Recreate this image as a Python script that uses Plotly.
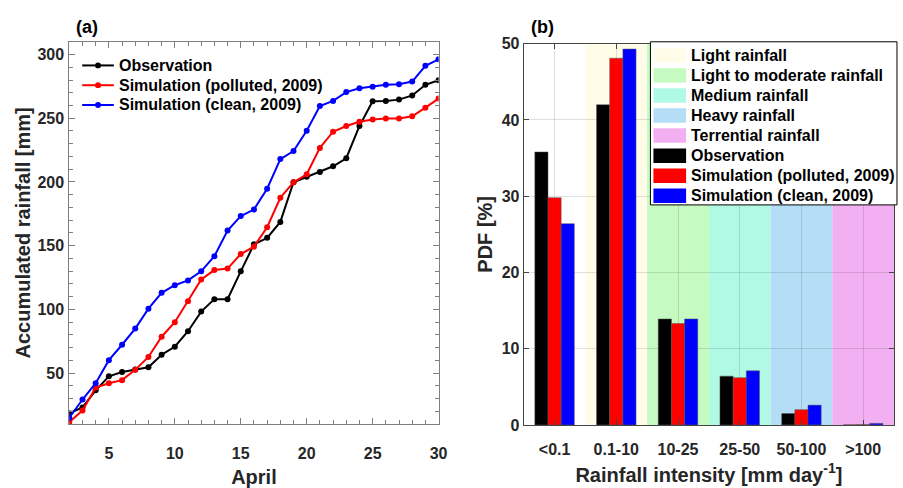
import plotly.graph_objects as go

# ---------------- data: panel (a) ----------------
days = list(range(2, 31))
obs_acc = [18.4, 23.0, 36.4, 47.4, 50.8, 52.7, 54.5, 64.4, 70.7, 82.8, 98.2, 108.0, 108.0, 129.8, 151.0,
           156.1, 168.6, 199.7, 204.0, 207.8, 212.3, 218.6, 243.9, 263.3, 263.6, 264.6, 267.9, 276.2, 279.8]
pol_acc = [11.6, 20.5, 38.6, 42.0, 44.4, 52.5, 62.6, 78.5, 89.9, 106.3, 123.5, 130.8, 132.0, 143.4, 149.2,
           164.4, 187.6, 199.7, 206.0, 226.7, 239.4, 243.9, 247.2, 249.0, 249.7, 249.7, 251.5, 258.3, 265.4]
cln_acc = [14.9, 29.2, 42.0, 60.1, 72.2, 84.9, 100.5, 113.0, 118.9, 122.7, 129.8, 141.7, 161.8, 173.2, 178.3,
           194.7, 217.9, 224.2, 240.2, 259.6, 263.6, 270.5, 273.5, 274.7, 276.2, 276.7, 278.8, 291.1, 296.2]

# ---------------- data: panel (b) ----------------
categories = ["<0.1", "0.1-10", "10-25", "25-50", "50-100", ">100"]
cat_pos = [1, 2, 3, 4, 5, 6]
obs_pdf = [35.8, 42.0, 13.9, 6.4, 1.5, 0.02]
pol_pdf = [29.8, 48.1, 13.3, 6.2, 2.0, 0.05]
cln_pdf = [26.4, 49.3, 13.9, 7.1, 2.6, 0.2]

band_names = ["Light rainfall", "Light to moderate rainfall", "Medium rainfall", "Heavy rainfall", "Terrential rainfall"]
band_lo = [1.5, 2.5, 3.5, 4.5, 5.5]
band_hi = [2.5, 3.5, 4.5, 5.5, 6.5]
band_colors = ["rgb(255,253,232)", "rgb(197,250,193)", "rgb(176,250,228)", "rgb(180,222,246)", "rgb(242,176,242)"]

series_names = ["Observation", "Simulation (polluted, 2009)", "Simulation (clean, 2009)"]
series_colors = ["#000000", "#ff0000", "#0000ff"]

W, H = 903, 488
FONT = "Liberation Sans, Arial, sans-serif"
TXT = "#262626"

fig = go.Figure()

# panel (a) lines
for name, vals, col in zip(series_names, [obs_acc, pol_acc, cln_acc], series_colors):
    fig.add_trace(go.Scatter(x=days, y=vals, mode="lines+markers", name=name,
                             line=dict(color=col, width=2), marker=dict(color=col, size=6),
                             xaxis="x", yaxis="y", showlegend=False))

# panel (b) bars
for name, vals, col in zip(series_names, [obs_pdf, pol_pdf, cln_pdf], series_colors):
    fig.add_trace(go.Bar(x=cat_pos, y=vals, name=name, marker=dict(color=col, line=dict(color="#555", width=0.5)),
                         xaxis="x2", yaxis="y2", showlegend=False))


def px(x):
    return x / W


def py(y):
    return 1 - y / H


shapes = []
annotations = []
# background bands
for lo, hi, c in zip(band_lo, band_hi, band_colors):
    shapes.append(dict(type="rect", xref="x2", yref="y2", x0=lo, x1=hi, y0=0, y1=50,
                       fillcolor=c, line=dict(width=0), layer="below"))

legfont = dict(family=FONT, size=16, color="black", weight="bold")

# legend panel (a)
for i, (n, c) in enumerate(zip(series_names, series_colors)):
    yc = 59.5 + i * 20.5
    shapes.append(dict(type="line", xref="paper", yref="paper", x0=px(83), x1=px(115), y0=py(yc), y1=py(yc),
                       line=dict(color=c, width=2), layer="above"))
    shapes.append(dict(type="circle", xref="paper", yref="paper", x0=px(96), x1=px(102), y0=py(yc + 3), y1=py(yc - 3),
                       fillcolor=c, line=dict(color=c, width=0), layer="above"))
    annotations.append(dict(xref="paper", yref="paper", x=px(118), y=py(yc), text=n, showarrow=False,
                            xanchor="left", yanchor="middle", font=legfont))

# legend panel (b)
shapes.append(dict(type="rect", xref="paper", yref="paper", x0=px(657), x1=px(906), y0=py(204), y1=py(35),
                   fillcolor="white", line=dict(color="black", width=1), layer="above"))
leg_names = band_names + series_names
leg_cols = band_colors + series_colors
for i, (n, c) in enumerate(zip(leg_names, leg_cols)):
    yc = 49 + i * 20.8
    shapes.append(dict(type="rect", xref="paper", yref="paper", x0=px(660), x1=px(693), y0=py(yc + 7.5), y1=py(yc - 7.5),
                       fillcolor=c, line=dict(width=0), layer="above"))
    annotations.append(dict(xref="paper", yref="paper", x=px(696), y=py(yc), text=n, showarrow=False,
                            xanchor="left", yanchor="middle", font=legfont))

annotations.append(dict(xref="paper", yref="paper", x=px(88), y=py(32), text="(a)", showarrow=False,
                        xanchor="center", yanchor="bottom", font=dict(family=FONT, size=18, color="black", weight="bold")))
annotations.append(dict(xref="paper", yref="paper", x=px(548), y=py(32), text="(b)", showarrow=False,
                        xanchor="center", yanchor="bottom", font=dict(family=FONT, size=18, color="black", weight="bold")))

tickfont = dict(family=FONT, size=16, color=TXT, weight="bold")
titlefont = dict(family=FONT, size=20, color=TXT, weight="bold")
AX = "#7f7f7f"

fig.update_layout(
    width=W, height=H, margin=dict(l=0, r=0, t=0, b=0),
    paper_bgcolor="white", plot_bgcolor="white",
    barmode="group", bargap=0.36, bargroupgap=0,
    shapes=shapes, annotations=annotations, showlegend=False,
    xaxis=dict(domain=[px(70), px(443)], range=[2, 30], tick0=0, dtick=5, ticks="inside", ticklen=6,
               tickcolor=AX, showline=True, linecolor=AX, linewidth=1, mirror="ticks", showgrid=False,
               zeroline=False, tickfont=tickfont, ticklabelstandoff=15,
               minor=dict(dtick=1, ticks="inside", ticklen=4, tickcolor=AX, showgrid=False),
               title=dict(text="April", font=titlefont, standoff=8), anchor="y"),
    yaxis=dict(domain=[1 - 431 / H, 1 - 35 / H], range=[10, 310], tick0=0, dtick=50, ticks="inside", ticklen=6,
               tickcolor=AX, showline=True, linecolor=AX, linewidth=1, mirror="ticks", showgrid=False,
               zeroline=False, tickfont=tickfont, ticklabelstandoff=1,
               minor=dict(dtick=10, ticks="inside", ticklen=4, tickcolor=AX, showgrid=False),
               title=dict(text="Accumulated rainfall [mm]", font=titlefont, standoff=1), anchor="x"),
    xaxis2=dict(domain=[px(529), 1.0], range=[0.5, 6.5], tickmode="array", tickvals=cat_pos, ticktext=categories,
                ticks="inside", ticklen=5, tickcolor="#444", showline=True, linecolor="#444", linewidth=1,
                mirror="ticks", showgrid=True, gridcolor="rgba(0,0,0,0.12)", zeroline=False, tickfont=tickfont,
                ticklabelstandoff=10,
                title=dict(text="Rainfall intensity [mm day<sup>-1</sup>]", font=titlefont, standoff=10), anchor="y2"),
    yaxis2=dict(domain=[1 - 432 / H, 1 - 37 / H], range=[0, 50], dtick=10, ticks="inside", ticklen=5,
                tickcolor="#444", showline=True, linecolor="#444", linewidth=1, mirror="ticks",
                showgrid=True, gridcolor="rgba(0,0,0,0.12)", zeroline=False, tickfont=tickfont,
                ticklabelstandoff=0,
                title=dict(text="PDF [%]", font=titlefont, standoff=3), anchor="x2"),
)

fig.write_html("out.html")
